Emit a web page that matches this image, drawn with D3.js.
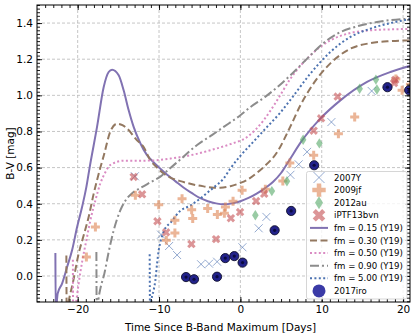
<!DOCTYPE html>
<html>
<head>
<meta charset="utf-8">
<script src="https://cdn.jsdelivr.net/npm/d3@7"></script>
<style>
body { margin: 0; background: #fff; }
svg text { font-family: "DejaVu Sans", sans-serif; fill: #000; }
</style>
</head>
<body>
<svg id="chart" width="415" height="333"></svg>
<script>
var t2007Y = [-12.97, -9.75, -8.76, -7.78, -4.83, -3.85, -2.86, 0.25, 2.25, 3.20, 6.15, 7.17, 8.20, 11.19, 16.14];
var bv2007Y = [0.552, 0.229, 0.166, 0.116, 0.065, 0.068, 0.079, 0.159, 0.264, 0.327, 0.560, 0.618, 0.687, 0.852, 1.024];

var t2009jf = [-18.93, -17.82, -12.91, -10.04, -9.10, -8.05, -8.05, -7.17, -5.99, -5.86, -4.02, -2.83, -1.97, -1.84, -0.90, 0.21, 3.07, 5.22, 6.08, 9.01, 12.05, 14.05, 19.11, 19.88, 20.9];
var bv2009jf = [0.105, 0.271, 0.447, 0.395, 0.198, 0.238, 0.308, 0.428, 0.367, 0.318, 0.373, 0.341, 0.347, 0.382, 0.413, 0.474, 0.480, 0.526, 0.625, 0.668, 0.788, 0.880, 1.091, 1.028, 1.061];

var t2012au = [1.84, 3.87, 5.72, 7.71, 9.71, 14.66, 16.66, 16.78];
var bv2012au = [0.336, 0.470, 0.524, 0.754, 0.734, 1.036, 1.087, 1.032];

var tPTF = [-13.12, -12.08, -10.20, -9.13, -6.02, -2.99, -1.17, -0.04, 1.93, 2.93, 9.01, 9.92, 11.96, 18.89, 19.05];
var bvPTF = [0.548, 0.452, 0.303, 0.242, 0.177, 0.204, 0.320, 0.354, 0.415, 0.455, 0.804, 0.873, 0.993, 1.068, 1.086];

var t2017iro = [-6.68, -5.70, -2.87, -1.86, -0.75, 0.27, 4.21, 6.24, 9.07, 18.08, 20.75];
var bv2017iro = [-0.006, -0.018, -0.004, 0.099, 0.110, 0.074, 0.253, 0.360, 0.613, 1.045, 1.028];

// Y19 model curves
var tFm015 = [-22.74, -22.70, -22.46, -21.92, -21.30, -20.69, -20.07, -19.46, -18.93, -18.52, -17.62, -16.80, -16.19, -15.77, -14.96, -14.35, -13.73, -13.12, -12.3, -11.5, -10.8, -10.0, -9.0, -8.0, -7.0, -6.0, -5.0, -4.0, -3.0, -2.0, -1.0, 0, 1.0, 2.0, 3.0, 4.0, 5.0, 6.0, 7.5, 9.83, 12.29, 15.57, 18.44, 21.1];
var bvFm015 = [0.127, -0.20, -0.097, -0.042, 0.050, 0.142, 0.271, 0.382, 0.493, 0.603, 0.825, 1.046, 1.129, 1.142, 1.111, 1.028, 0.917, 0.825, 0.735, 0.67, 0.635, 0.60, 0.56, 0.525, 0.49, 0.46, 0.432, 0.414, 0.402, 0.397, 0.402, 0.414, 0.432, 0.456, 0.485, 0.52, 0.57, 0.64, 0.745, 0.871, 0.972, 1.074, 1.129, 1.166];

var tFm030 = [-21.39, -21.35, -21.08, -20.65, -19.88, -19.26, -18.65, -18.03, -17.21, -16.8, -15.98, -15.16, -14.5, -13.93, -12.7, -11.89, -11.06, -10.24, -9.43, -8.6, -7.38, -6.55, -5.32, -4.51, -3.28, -2.46, -1.23, 0, 0.82, 2.0, 2.86, 4.51, 6.15, 7.38, 8.6, 9.83, 11.06, 13.52, 15.98, 18.44, 20.9];
var bvFm030 = [0.113, -0.22, -0.135, -0.051, 0.124, 0.225, 0.327, 0.456, 0.60, 0.665, 0.80, 0.843, 0.835, 0.816, 0.751, 0.714, 0.64, 0.60, 0.567, 0.545, 0.525, 0.515, 0.502, 0.496, 0.489, 0.489, 0.497, 0.515, 0.532, 0.57, 0.603, 0.685, 0.828, 0.945, 1.039, 1.116, 1.177, 1.258, 1.289, 1.300, 1.304];

var tFm050 = [-20.59, -20.55, -20.16, -19.91, -19.42, -18.93, -18.44, -17.82, -17.21, -16.6, -15.98, -14.35, -12.5, -10.5, -8.6, -6.15, -3.69, -1.23, 0.82, 2.86, 4.51, 6.15, 8.6, 11.06, 13.52, 15.98, 18.44, 20.9];
var bvFm050 = [0.09, -0.22, -0.135, -0.051, 0.087, 0.198, 0.308, 0.419, 0.513, 0.574, 0.615, 0.638, 0.638, 0.640, 0.650, 0.668, 0.696, 0.730, 0.769, 0.862, 0.972, 1.092, 1.221, 1.304, 1.345, 1.360, 1.365, 1.368];

var tFm090 = [-17.70, -17.66, -17.45, -17.21, -16.72, -16.19, -15.57, -14.75, -13.93, -13.31, -12.29, -11.0, -9.83, -8.81, -7.38, -5.32, -3.5, -2.05, 0, 1.23, 3.0, 4.92, 6.15, 8.6, 10.24, 11.89, 14.35, 16.8, 20.9];
var bvFm090 = [0.133, -0.22, -0.13, -0.070, 0.013, 0.133, 0.253, 0.364, 0.430, 0.458, 0.487, 0.52, 0.55, 0.59, 0.645, 0.725, 0.78, 0.825, 0.89, 0.935, 0.99, 1.06, 1.111, 1.221, 1.29, 1.341, 1.382, 1.406, 1.425];

var tFm500 = [-11.15, -11.10, -10.95, -10.66, -10.45, -10.24, -10.04, -9.83, -9.43, -8.5, -7.4, -6.15, -4.9, -3.69, -2.86, -2.05, -1.23, 0, 1.64, 3.28, 4.92, 6.15, 8.6, 11.06, 13.52, 15.98, 18.44, 20.9];
var bvFm500 = [0.120, -0.22, -0.14, -0.079, -0.024, 0.069, 0.142, 0.188, 0.245, 0.30, 0.36, 0.39, 0.43, 0.475, 0.505, 0.54, 0.595, 0.665, 0.745, 0.825, 0.905, 0.975, 1.12, 1.24, 1.323, 1.369, 1.400, 1.422];

var xTicks = [-20, -10, 0, 10, 20];
var yTicks = [0, 0.2, 0.4, 0.6, 0.8, 1.0, 1.2, 1.4];

var W = 415, H = 333;
var margin = {top: 5, right: 5, bottom: 31, left: 37};
var width = W - margin.left - margin.right,
    height = H - margin.top - margin.bottom;

var svg = d3.select('#chart');
var g = svg.append('g').attr('transform', 'translate(' + margin.left + ',' + margin.top + ')');

var x = d3.scaleLinear().domain([-25, 20.85]).range([0, width]);
var y = d3.scaleLinear().domain([-0.144, 1.5]).range([height, 0]);

svg.append('defs').append('clipPath').attr('id', 'clip')
    .append('rect').attr('width', width).attr('height', height);

// grid
g.append('g').selectAll('line').data(xTicks).enter().append('line')
    .attr('x1', function (d) { return x(d); }).attr('x2', function (d) { return x(d); })
    .attr('y1', 0).attr('y2', height)
    .attr('stroke', '#b8b8b8').attr('stroke-width', 0.8).attr('stroke-dasharray', '3,2');
g.append('g').selectAll('line').data(yTicks).enter().append('line')
    .attr('y1', function (d) { return y(d); }).attr('y2', function (d) { return y(d); })
    .attr('x1', 0).attr('x2', width)
    .attr('stroke', '#b8b8b8').attr('stroke-width', 0.8).attr('stroke-dasharray', '3,2');

// model curves
var models = [
    {t: tFm015, bv: bvFm015, color: '#8172b2', dash: null},
    {t: tFm030, bv: bvFm030, color: '#937860', dash: '7,3.5'},
    {t: tFm050, bv: bvFm050, color: '#da8bc3', dash: '2,2.4'},
    {t: tFm090, bv: bvFm090, color: '#8c8c8c', dash: '9,3,2,3'},
    {t: tFm500, bv: bvFm500, color: '#4c72b0', dash: '2,2.4'}
];

var line = d3.line()
    .x(function (d) { return x(d[0]); })
    .y(function (d) { return y(d[1]); })
    .curve(d3.curveMonotoneX);

var plot = g.append('g').attr('clip-path', 'url(#clip)');

models.forEach(function (m) {
    plot.append('path')
        .datum(d3.zip(m.t, m.bv))
        .attr('d', line)
        .attr('fill', 'none')
        .attr('stroke', m.color)
        .attr('stroke-width', 2)
        .attr('stroke-dasharray', m.dash);
});

// marker shapes
function xMark(s) {
    return 'M' + (-s) + ',' + (-s) + 'L' + s + ',' + s + 'M' + (-s) + ',' + s + 'L' + s + ',' + (-s);
}
function diamond(w, h) {
    return 'M0,' + (-h) + 'L' + w + ',0L0,' + h + 'L' + (-w) + ',0Z';
}
var plusPath = d3.symbol(d3.symbolCross, 45)();
var plusBig = d3.symbol(d3.symbolCross, 100)();

function drawPts(t, bv, fn) {
    var sel = plot.append('g').selectAll('g').data(d3.zip(t, bv)).enter().append('g')
        .attr('transform', function (d) { return 'translate(' + x(d[0]) + ',' + y(d[1]) + ')'; });
    fn(sel);
}

drawPts(t2007Y, bv2007Y, function (s) {
    s.append('path').attr('d', xMark(4)).attr('fill', 'none')
        .attr('stroke', '#4c72b0').attr('stroke-width', 1).attr('opacity', 0.6);
});
drawPts(t2009jf, bv2009jf, function (s) {
    s.append('path').attr('d', plusPath).attr('fill', '#dd8452').attr('opacity', 0.6);
});
drawPts(t2012au, bv2012au, function (s) {
    s.append('path').attr('d', diamond(3.3, 5.2)).attr('fill', '#55a868').attr('opacity', 0.6);
});
drawPts(tPTF, bvPTF, function (s) {
    s.append('path').attr('d', plusPath).attr('transform', 'rotate(45)')
        .attr('fill', '#c44e52').attr('opacity', 0.6);
});
drawPts(t2017iro, bv2017iro, function (s) {
    s.append('circle').attr('r', 4.6).attr('fill', '#22228a').attr('stroke', '#10102e').attr('stroke-width', 0.9);
    s.append('circle').attr('r', 1.6).attr('fill', '#0b0b40');
});

// spines and ticks (all pointing inward)
function tidy(a) {
    a.select('.domain').remove();
    a.selectAll('line').attr('stroke', '#000').attr('stroke-width', 0.9);
    a.selectAll('text').attr('font-size', '10.5px').attr('font-family', '"DejaVu Sans", sans-serif');
}
var xMinor = d3.range(-24, 21);
var yMinor = d3.range(-7, 76).map(function (i) { return +(i * 0.02).toFixed(2); });

g.append('g').attr('transform', 'translate(0,' + height + ')')
    .call(d3.axisBottom(x).tickValues(xMinor).tickSize(-3).tickFormat('')).call(tidy);
g.append('g').attr('transform', 'translate(0,' + height + ')')
    .call(d3.axisBottom(x).tickValues(xTicks).tickSize(-5).tickPadding(4).tickFormat(d3.format('d'))).call(tidy);
g.append('g')
    .call(d3.axisTop(x).tickValues(xMinor).tickSize(-3).tickFormat('')).call(tidy);
g.append('g')
    .call(d3.axisTop(x).tickValues(xTicks).tickSize(-5).tickFormat('')).call(tidy);

g.append('g')
    .call(d3.axisLeft(y).tickValues(yMinor).tickSize(-3).tickFormat('')).call(tidy);
g.append('g')
    .call(d3.axisLeft(y).tickValues(yTicks).tickSize(-5).tickPadding(4).tickFormat(d3.format('.1f'))).call(tidy);
g.append('g').attr('transform', 'translate(' + width + ',0)')
    .call(d3.axisRight(y).tickValues(yMinor).tickSize(-3).tickFormat('')).call(tidy);
g.append('g').attr('transform', 'translate(' + width + ',0)')
    .call(d3.axisRight(y).tickValues(yTicks).tickSize(-5).tickFormat('')).call(tidy);

g.append('rect').attr('width', width).attr('height', height)
    .attr('fill', 'none').attr('stroke', '#000').attr('stroke-width', 1);

// axis titles
g.append('text')
    .attr('x', width / 2 - 3).attr('y', height + 29)
    .attr('text-anchor', 'middle').attr('font-size', '10.5px')
    .text('Time Since B-Band Maximum [Days]');
g.append('text')
    .attr('transform', 'translate(' + (-23) + ',' + (height / 2) + ') rotate(-90)')
    .attr('text-anchor', 'middle').attr('font-size', '10.5px')
    .text('B-V [mag]');

// legend
var legendItems = [
    {label: '2007Y', kind: 'x'},
    {label: '2009jf', kind: 'plus'},
    {label: '2012au', kind: 'diamond'},
    {label: 'iPTF13bvn', kind: 'X'},
    {label: 'fm = 0.15 (Y19)', kind: 'line', m: 0},
    {label: 'fm = 0.30 (Y19)', kind: 'line', m: 1},
    {label: 'fm = 0.50 (Y19)', kind: 'line', m: 2},
    {label: 'fm = 0.90 (Y19)', kind: 'line', m: 3},
    {label: 'fm = 5.00 (Y19)', kind: 'line', m: 4},
    {label: '2017iro', kind: 'circle'}
];

var lg = svg.append('g').attr('transform', 'translate(306.5,171.5)');
lg.append('rect').attr('width', 100.5).attr('height', 127.5).attr('rx', 2)
    .attr('fill', '#fff').attr('fill-opacity', 0.8).attr('stroke', '#cccccc').attr('stroke-width', 0.8);

var rows = lg.selectAll('.legend').data(legendItems).enter().append('g')
    .attr('class', 'legend')
    .attr('transform', function (d, i) { return 'translate(0,' + (6 + i * 12.6) + ')'; });

rows.each(function (d) {
    var r = d3.select(this);
    var h = r.append('g').attr('transform', 'translate(12.5,0)');
    if (d.kind === 'x') {
        h.append('path').attr('d', xMark(5.5)).attr('fill', 'none')
            .attr('stroke', '#4c72b0').attr('stroke-width', 1).attr('opacity', 0.6);
    } else if (d.kind === 'plus') {
        h.append('path').attr('d', plusBig).attr('fill', '#dd8452').attr('opacity', 0.6);
    } else if (d.kind === 'diamond') {
        h.append('path').attr('d', diamond(4, 6.5)).attr('fill', '#55a868').attr('opacity', 0.6);
    } else if (d.kind === 'X') {
        h.append('path').attr('d', plusBig).attr('transform', 'rotate(45)')
            .attr('fill', '#c44e52').attr('opacity', 0.6);
    } else if (d.kind === 'circle') {
        h.append('circle').attr('r', 6.5).attr('fill', '#3a3aa6');
    } else {
        var m = models[d.m];
        h.append('line').attr('x1', -9).attr('x2', 9)
            .attr('stroke', m.color).attr('stroke-width', 2).attr('stroke-dasharray', m.dash);
    }
    r.append('text').attr('x', 27.5).attr('dy', '0.35em')
        .attr('font-size', '8.6px').text(d.label);
});
</script>
</body>
</html>
